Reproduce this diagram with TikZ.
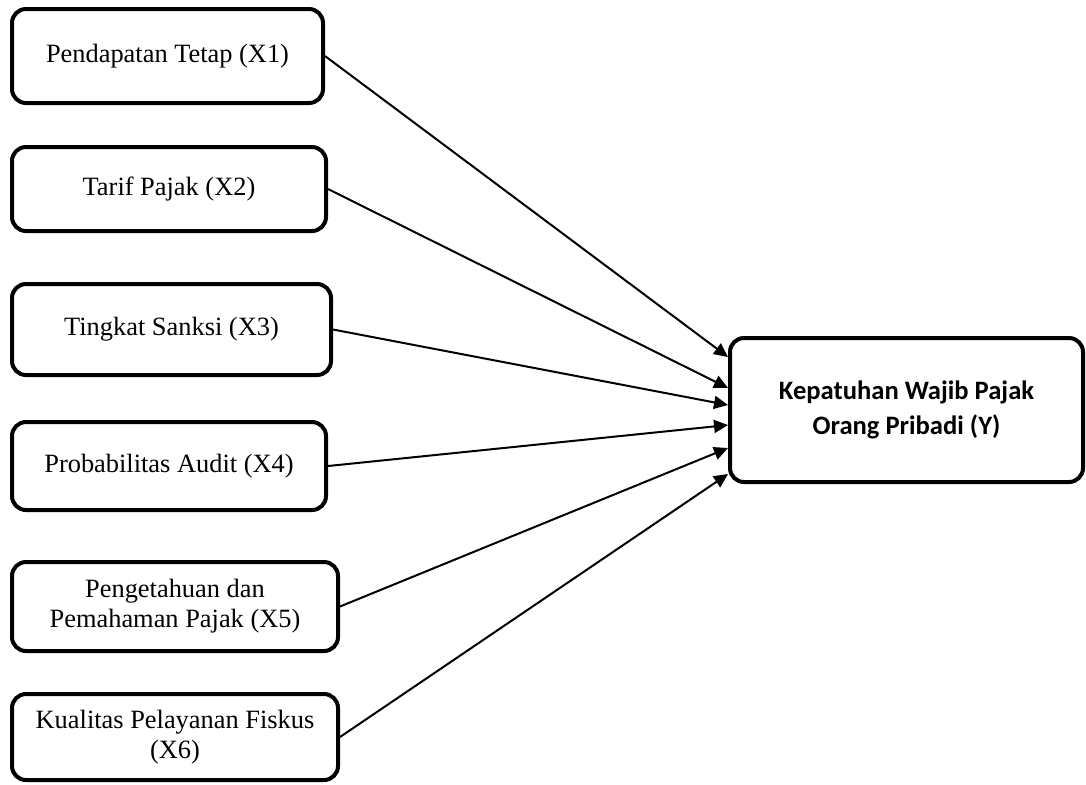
\documentclass[tikz,border=0pt]{standalone}
\usepackage{fontspec}
\setmainfont{Liberation Serif}
\newfontfamily\calfont{Carlito}
\usetikzlibrary{arrows.meta}

\tikzstyle{factor}=[draw,line width=2pt,rounded corners=7pt,align=center,inner sep=0pt,font=\fontsize{13.2}{15}\selectfont]
\tikzstyle{target}=[factor,font=\calfont\bfseries\fontsize{13.3}{17.3}\selectfont]
\tikzstyle{link}=[draw,line width=1pt,-{Triangle[length=7pt,width=6.5pt]}]

\begin{document}
\begin{tikzpicture}[x=0.5pt,y=-0.5pt]
    \useasboundingbox (0,0) rectangle (1086,784);
    % First we draw the independent variables
    \foreach \pos/\name/\w/\h/\txt in {{(167.5,56)/x1/311/94/{Pendapatan Tetap (X1)}},
            {(169,189)/x2/314/84/{Tarif Pajak (X2)}},
            {(171.5,329.5)/x3/319/91/{Tingkat Sanksi (X3)}},
            {(169,466)/x4/314/88/{Probabilitas Audit (X4)}},
            {(175,606.5)/x5/326/89/{Pengetahuan dan\\Pemahaman Pajak (X5)}},
            {(175,737)/x6/326/86/{Kualitas Pelayanan Fiskus\\(X6)}}}
        \node[factor,minimum width=\w*0.5pt,minimum height=\h*0.5pt] (\name) at \pos {\txt};
    % Then the dependent variable
    \node[target,minimum width=176.5pt,minimum height=72pt] (y) at (906.5,410) {Kepatuhan Wajib Pajak\\Orang Pribadi (Y)};
    % Connect the variables with arrows
    \foreach \source/\shift in {x1/26.5, x2/11, x3/2.5, x4/-7.5, x5/-19, x6/-32}
        \path[link] (\source.east) -- ([yshift=\shift pt]y.west);
\end{tikzpicture}
\end{document}
